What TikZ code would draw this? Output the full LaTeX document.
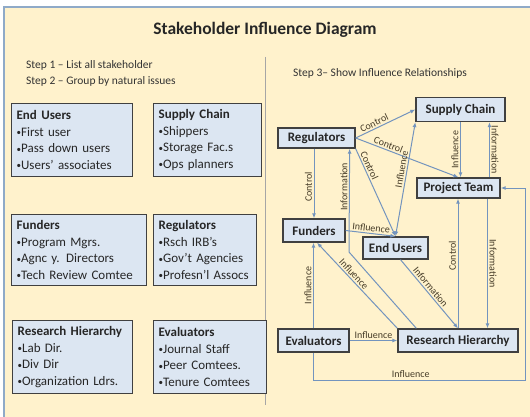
\documentclass[tikz,border=0pt]{standalone}
\usepackage{fontspec}
\setmainfont{Carlito}
\usepackage{tikz}
\usetikzlibrary{arrows.meta,positioning,calc}

\definecolor{paper}{RGB}{255,242,204}
\definecolor{paperedge}{RGB}{143,170,200}
\definecolor{boxfill}{RGB}{220,230,242}
\definecolor{boxedge}{RGB}{64,64,64}
\definecolor{linkblue}{RGB}{115,148,190}
\definecolor{lbltext}{RGB}{70,60,40}

% small bullet in front of each member of a group
\newcommand{\blt}{\raisebox{0.8pt}{\fontsize{9}{9}\selectfont•}}

\begin{document}
\begin{tikzpicture}[x=1pt,y=-1pt,>={Latex[length=5pt,width=4pt]},
    group/.style={draw=boxedge, line width=1.3pt, fill=boxfill, anchor=north west, align=left,
        inner xsep=5pt, inner ysep=0pt, font=\fontsize{13}{16.5}\selectfont, text=black!85},
    party/.style={draw=boxedge, line width=1.3pt, fill=boxfill, inner sep=0pt,
        font=\fontsize{13}{15}\selectfont\bfseries, text=black!85},
    link/.style={draw=linkblue, line width=1pt},
    lbl/.style={font=\fontsize{10}{12}\selectfont, text=lbltext, inner sep=1.5pt}]
    \useasboundingbox (0,0) rectangle (530,417);

    % Sheet and headings
    \draw[paperedge, line width=1.2pt, fill=paper] (4,7) rectangle (536,424);
    \node[font=\fontsize{17.5}{20}\selectfont\bfseries, text=black!85] (title) at (265,30) {Stakeholder Influence Diagram};
    \draw[black!35, line width=0.6pt] (265.5,57) -- (265.5,405);
    \node[anchor=base west, inner sep=0pt, font=\fontsize{11.5}{14}\selectfont, text=black!80] (step1) at (26,69) {Step 1 – List all stakeholder};
    \node[anchor=base west, inner sep=0pt, font=\fontsize{11.5}{14}\selectfont, text=black!80] (step2) at (26,85) {Step 2 – Group by natural issues};
    \node[anchor=base west, inner sep=0pt, font=\fontsize{11.5}{14}\selectfont, text=black!80] (step3) at (293,77) {Step 3– Show Influence Relationships};

    % Step 1/2: the stakeholder groups
    \node[group, text width=111pt, minimum height=73pt] (grpend) at (11,103)
        {\textbf{End Users}\\\blt First user\\\blt Pass down users\\\blt Users’ associates};
    \node[group, text width=98pt, minimum height=73pt] (grpsup) at (153,103)
        {\textbf{Supply Chain}\\\blt Shippers\\\blt Storage Fac.s\\\blt Ops planners};
    \node[group, text width=125pt, minimum height=71pt] (grpfund) at (11,214)
        {\textbf{Funders}\\\blt Program Mgrs.\\\blt Agnc y. Directors\\\blt Tech Review Comtee};
    \node[group, text width=93pt, minimum height=71pt] (grpreg) at (153,214)
        {\textbf{Regulators}\\\blt Rsch IRB’s\\\blt Gov’t Agencies\\\blt Profesn’l~Assocs};
    \node[group, text width=110pt, minimum height=73pt] (grpres) at (12,320)
        {\textbf{Research Hierarchy}\\\blt Lab Dir.\\\blt Div Dir\\\blt Organization~Ldrs.};
    \node[group, text width=103pt, minimum height=73pt] (grpeval) at (153,320)
        {\textbf{Evaluators}\\\blt Journal Staff\\\blt Peer Comtees.\\\blt Tenure Comtees};

    % Step 3: who influences whom
    \node[party, minimum width=77pt, minimum height=20pt] (reg) at (316.5,138) {Regulators};
    \node[party, minimum width=89pt, minimum height=24pt] (sup) at (460.5,109.5) {Supply Chain};
    \node[party, minimum width=83pt, minimum height=20pt] (proj) at (458.5,188) {Project Team};
    \node[party, minimum width=62pt, minimum height=23pt] (fund) at (314,230.5) {Funders};
    \node[party, minimum width=65pt, minimum height=22pt] (endu) at (395.5,248) {End Users};
    \node[party, minimum width=71pt, minimum height=23pt] (eval) at (313.5,340.5) {Evaluators};
    \node[party, minimum width=120pt, minimum height=23pt] (rh) at (458,340.5) {Research Hierarchy};
    \coordinate (ibend) at (349,252);
    \coordinate (loopc) at (525,380);

    \draw[link,->] (reg.east) -- node[lbl, pos=0.35, sloped, above] (c1) {Control} (sup.west);
    \draw[link,->] (reg.east) -- node[lbl, pos=0.3, sloped, above] (c2) {Control} (proj.north);
    \draw[link,->] (reg.south east) -- node[lbl, pos=0.22, sloped, above] (c3) {Control} (endu.north);
    \draw[link,->] (fund.north |- reg.south) -- node[lbl, pos=0.55, rotate=90, anchor=south] (c4) {Control} (fund.north);
    \draw[link,<->] (endu.north) -- node[lbl, pos=0.58, sloped, above] (i1) {Influence} (sup.south west);
    \draw[link,->] (sup.south) -- node[lbl, midway, rotate=90, anchor=south] (i2) {Influence} (sup.south |- proj.north);
    \draw[link,->] ([xshift=31pt]proj.north) -- node[lbl, midway, rotate=-90, anchor=south] (n1) {Information} ([xshift=31pt]proj.north |- sup.south);
    \draw[link,->] ([xshift=19pt]rh.north west) -- (ibend)
        -- node[lbl, pos=0.63, rotate=90, anchor=south] (n2) {Information} ([xshift=-6pt]reg.south east);
    \draw[link,->] (fund.east) -- node[lbl, midway, sloped, above] (i3) {Influence} (endu.north);
    \draw[link,->] (eval.north) -- node[lbl, midway, rotate=90, anchor=south] (i4) {Influence} (eval.north |- fund.south);
    \draw[link,->] (rh.north west) -- node[lbl, pos=0.59, sloped, above] (i5) {Influence} ([xshift=3pt]fund.south);
    \draw[link,->] ([xshift=5pt]endu.south) -- node[lbl, pos=0.45, sloped, above] (n3) {Information} (rh.north);
    \draw[link,->] (rh.north) -- node[lbl, pos=0.56, rotate=90, anchor=south] (c5) {Control} (rh.north |- proj.south);
    \draw[link,->] ([xshift=29pt]proj.south) -- node[lbl, midway, rotate=-90, anchor=south] (n4) {Information} ([xshift=29pt]proj.south |- rh.north);
    \draw[link,->] (eval.east) -- node[lbl, midway, above] (i6) {Influence} (rh.west);
    \draw[link,->] (eval.south) |- node[lbl, pos=0.73, above] (i7) {Influence} (loopc) |- (proj.east);
\end{tikzpicture}
\end{document}
